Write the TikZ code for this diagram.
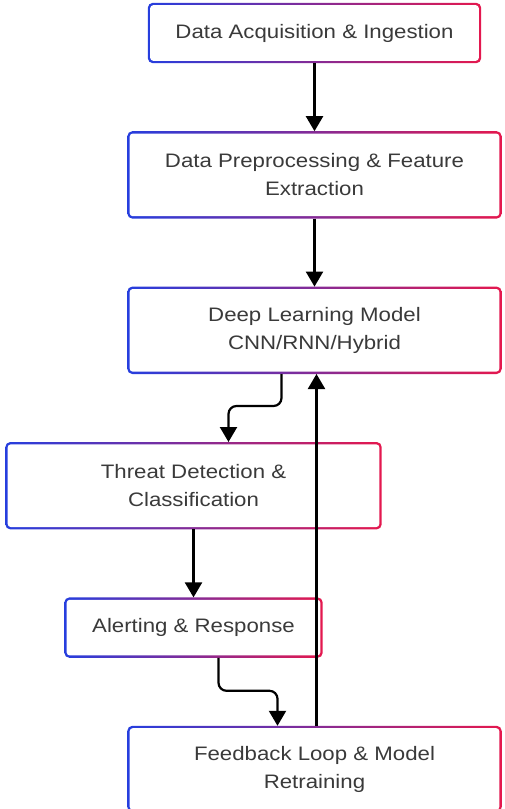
\documentclass[tikz,border=0pt]{standalone}
\usepackage{fontspec}
\setmainfont{Liberation Sans}[FakeStretch=1.14]
\usetikzlibrary{arrows.meta, positioning, backgrounds}
\definecolor{FrameBlue}{RGB}{38,62,222}
\definecolor{FrameRed}{RGB}{228,24,78}
\definecolor{TextGray}{RGB}{58,58,58}

\begin{document}
\begin{tikzpicture}[
    stage/.style={
        rectangle, minimum width=#1, minimum height=87pt,
        align=center, inner sep=0pt,
        font=\fontsize{19.5}{28}\selectfont, text=TextGray
    },
    stage/.default={374pt},
    arr/.style={-{Triangle[length=15pt, width=17pt]}, line width=2.2pt, black},
    node distance=68pt
]
\useasboundingbox (0,0) rectangle (504pt,-809pt);

% Stages
\node[stage=333pt, minimum height=60pt] (acq) at (314.5pt,-33pt)
    {Data Acquisition \& Ingestion};

\node[stage, below=of acq] (prep)
    {Data Preprocessing \& Feature\\Extraction};

\node[stage, below=of prep] (model)
    {Deep Learning Model\\CNN/RNN/Hybrid};

\node[stage=376pt, below=of model, xshift=-121pt] (threat)
    {Threat Detection \&\\Classification};

\node[stage=258pt, minimum height=60pt, below=of threat] (alert)
    {Alerting \& Response};

\node[stage, minimum height=86pt, below=of alert, xshift=121pt] (feedback)
    {Feedback Loop \& Model\\Retraining};

% Frames
\begin{scope}[on background layer]
\foreach \n in {acq, prep, model, threat, alert, feedback} {
    \shade[left color=FrameBlue, right color=FrameRed, rounded corners=5pt]
        (\n.north west) rectangle (\n.south east);
    \fill[white, rounded corners=3pt]
        ([shift={(2.4pt,-2.4pt)}]\n.north west) rectangle ([shift={(-2.4pt,2.4pt)}]\n.south east);
}
\end{scope}

% Arrows
\foreach \a/\b in {acq/prep, prep/model, threat/alert} {
    \draw[arr] (\a) -- (\b);
}
\draw[arr, rounded corners=8pt] ([xshift=-33pt]model.south) -- ++(0,-32pt)
    -| ([xshift=35pt]threat.north);
\draw[arr, rounded corners=8pt] ([xshift=25pt]alert.south) -- ++(0,-33pt)
    -| ([xshift=-37pt]feedback.north);
\draw[arr] ([xshift=2pt]feedback.north) -- ([xshift=2pt]model.south);

\end{tikzpicture}
\end{document}
